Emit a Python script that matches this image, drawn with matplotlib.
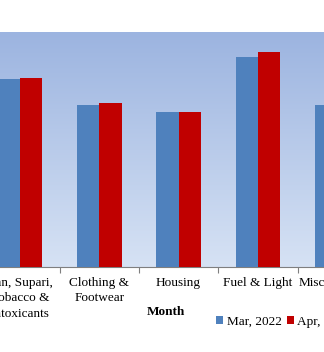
import numpy as np
import matplotlib
matplotlib.use('Agg')
import matplotlib.pyplot as plt
from matplotlib.colors import LinearSegmentedColormap

categories = ['Pan, Supari,\nTobacco &\nIntoxicants', 'Clothing &\nFootwear', 'Housing',
              'Fuel & Light', 'Miscellaneous']
mar_2022 = [188, 162, 155, 210, 162]
apr_2022 = [189, 164, 155, 215, 163]

plt.rcParams['font.family'] = ['Liberation Serif', 'DejaVu Serif']

W, H = 324, 352
span = 1.5  # axes runs past the right edge, as the reference is cropped
fig = plt.figure(figsize=(W / 100, H / 100), dpi=100)
ax = fig.add_axes([0, (H - 267) / H, span, (267 - 32) / H])

x = np.arange(len(categories))
bw = 0.28
ax.bar(x - bw / 2, mar_2022, bw, color='#4F81BD', label='Mar, 2022', zorder=3)
ax.bar(x + bw / 2, apr_2022, bw, color='#C00000', label='Apr, 2022', zorder=3)

# gradient background
cmap = LinearSegmentedColormap.from_list('bg', ['#D6E2F4', '#9CB4E0'])
grad = np.linspace(0, 1, 256).reshape(-1, 1)
ax.imshow(grad, cmap=cmap, aspect='auto', extent=[0, 1, 0, 1],
          transform=ax.transAxes, origin='lower', zorder=0)

for s in ['top', 'right', 'left']:
    ax.spines[s].set_visible(False)
ax.spines['bottom'].set_color('#7F7F7F')
ax.set_yticks([])

ax.set_xticks(x[:-1] + 0.5)
ax.set_xticklabels([])
ax.tick_params(axis='x', which='major', length=4, color='#7F7F7F', direction='out')
ax.set_xticks(x, minor=True)
ax.set_xticklabels(categories, minor=True, fontsize=9.5, linespacing=1.4)
ax.tick_params(axis='x', which='minor', length=0, pad=7)

# limits after ticks so they are not expanded
ax.set_xlim(-20 / 79.3, (span * W - 20) / 79.3)
ax.set_ylim(0, 235)

fig.text(166 / W, 1 - 312 / H, 'Month', fontsize=9.5, fontweight='bold',
         ha='center', va='center')
ax.legend(loc='center left', bbox_to_anchor=(216 / W, 1 - 322 / H),
          bbox_transform=fig.transFigure, ncol=2, frameon=False, fontsize=9.5,
          handlelength=0.55, handleheight=0.55, handletextpad=0.25, columnspacing=0.4,
          borderpad=0, borderaxespad=0)

fig.savefig('out.png', dpi=100)
